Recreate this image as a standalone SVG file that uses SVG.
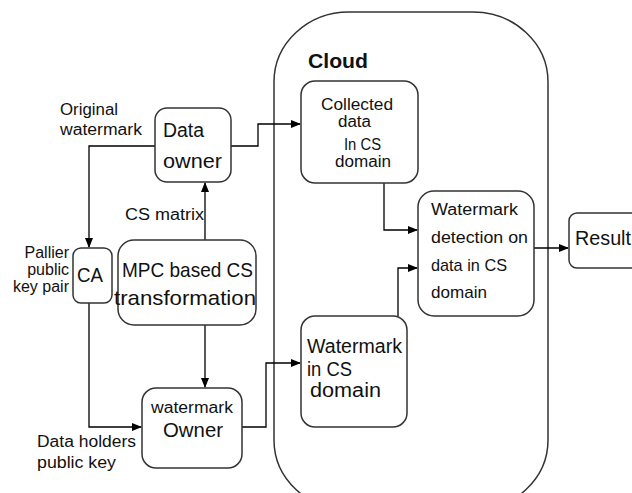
<svg xmlns="http://www.w3.org/2000/svg" width="632" height="493" viewBox="0 0 632 493">
<defs>
<marker id="ah" markerWidth="10" markerHeight="8" refX="9" refY="4" orient="auto" markerUnits="userSpaceOnUse">
<path d="M0,0 L10,4 L0,8 Z" fill="#000"/>
</marker>
<style>
.box{fill:#fff;stroke:#333;stroke-width:1.5}
.ln{fill:none;stroke:#000;stroke-width:1.3}
.t{font-family:"Liberation Sans",Arial,sans-serif;fill:#111}
</style>
</defs>
<rect width="632" height="493" fill="#fff"/>
<g id="cloud">
<rect class="box" x="274" y="12" width="274" height="498" rx="75" ry="70"/>
<text class="t" x="308" y="68" font-size="20" font-weight="bold" textLength="60" lengthAdjust="spacingAndGlyphs">Cloud</text>
</g>
<g id="connectors">
<path class="ln" d="M155,146 H89 V247" marker-end="url(#ah)"/>
<path class="ln" d="M231,146 H258 V124 H300" marker-end="url(#ah)"/>
<path class="ln" d="M205,240 V183" marker-end="url(#ah)"/>
<path class="ln" d="M205,325 V387" marker-end="url(#ah)"/>
<path class="ln" d="M89,303 V427 H141" marker-end="url(#ah)"/>
<path class="ln" d="M242,427 H266 V363 H300" marker-end="url(#ah)"/>
<path class="ln" d="M384,183 V230 H417" marker-end="url(#ah)"/>
<path class="ln" d="M398,316 V268 H417" marker-end="url(#ah)"/>
<path class="ln" d="M534,248 H568" marker-end="url(#ah)"/>
</g>
<g id="labels">
<text class="t" x="60" y="115" font-size="16" textLength="58" lengthAdjust="spacingAndGlyphs">Original</text>
<text class="t" x="60" y="135" font-size="16" textLength="82" lengthAdjust="spacingAndGlyphs">watermark</text>
<text class="t" x="125" y="220" font-size="16" textLength="79" lengthAdjust="spacingAndGlyphs">CS matrix</text>
<text class="t" x="69" y="258" font-size="16" text-anchor="end">Pallier</text>
<text class="t" x="69" y="275" font-size="16" text-anchor="end">public</text>
<text class="t" x="69" y="292" font-size="16" text-anchor="end">key pair</text>
<text class="t" x="37" y="447" font-size="16" textLength="99" lengthAdjust="spacingAndGlyphs">Data holders</text>
<text class="t" x="37" y="468" font-size="16" textLength="79" lengthAdjust="spacingAndGlyphs">public key</text>
</g>
<g id="data-owner">
<rect class="box" x="155" y="108" width="76" height="74" rx="12"/>
<text class="t" x="163" y="137" font-size="20" textLength="41" lengthAdjust="spacingAndGlyphs">Data</text>
<text class="t" x="163" y="168" font-size="20" textLength="59" lengthAdjust="spacingAndGlyphs">owner</text>
</g>
<g id="ca">
<rect class="box" x="73" y="248" width="39" height="55" rx="8"/>
<text class="t" x="77" y="282" font-size="21" textLength="26" lengthAdjust="spacingAndGlyphs">CA</text>
</g>
<g id="mpc">
<rect class="box" x="118" y="240" width="138" height="85" rx="16"/>
<text class="t" x="122" y="277" font-size="21" textLength="131" lengthAdjust="spacingAndGlyphs">MPC based CS</text>
<text class="t" x="114" y="305" font-size="21" textLength="142" lengthAdjust="spacingAndGlyphs">transformation</text>
</g>
<g id="watermark-owner">
<rect class="box" x="142" y="388" width="100" height="80" rx="14"/>
<text class="t" x="151" y="413" font-size="16" textLength="82" lengthAdjust="spacingAndGlyphs">watermark</text>
<text class="t" x="163" y="437" font-size="21" textLength="60" lengthAdjust="spacingAndGlyphs">Owner</text>
</g>
<g id="collected">
<rect class="box" x="301" y="81" width="117" height="102" rx="14"/>
<text class="t" x="321" y="110" font-size="16" textLength="72" lengthAdjust="spacingAndGlyphs">Collected</text>
<text class="t" x="338" y="127" font-size="16" textLength="33" lengthAdjust="spacingAndGlyphs">data</text>
<text class="t" x="344" y="150" font-size="16" textLength="37" lengthAdjust="spacingAndGlyphs">In CS</text>
<text class="t" x="335" y="167" font-size="16" textLength="56" lengthAdjust="spacingAndGlyphs">domain</text>
</g>
<g id="wm-cs">
<rect class="box" x="301" y="316" width="106" height="111" rx="14"/>
<text class="t" x="307" y="353" font-size="20" textLength="95" lengthAdjust="spacingAndGlyphs">Watermark</text>
<text class="t" x="307" y="376" font-size="20" textLength="45" lengthAdjust="spacingAndGlyphs">in CS</text>
<text class="t" x="310" y="397" font-size="20" textLength="71" lengthAdjust="spacingAndGlyphs">domain</text>
</g>
<g id="detection">
<rect class="box" x="418" y="191" width="116" height="125" rx="16"/>
<text class="t" x="431" y="215" font-size="16" textLength="87" lengthAdjust="spacingAndGlyphs">Watermark</text>
<text class="t" x="431" y="243" font-size="17" textLength="97" lengthAdjust="spacingAndGlyphs">detection on</text>
<text class="t" x="431" y="271" font-size="17" textLength="76" lengthAdjust="spacingAndGlyphs">data in CS</text>
<text class="t" x="431" y="298" font-size="17" textLength="56" lengthAdjust="spacingAndGlyphs">domain</text>
</g>
<g id="result">
<rect class="box" x="569" y="213" width="90" height="55" rx="8"/>
<text class="t" x="575" y="245" font-size="20" textLength="56" lengthAdjust="spacingAndGlyphs">Result</text>
</g>
</svg>
